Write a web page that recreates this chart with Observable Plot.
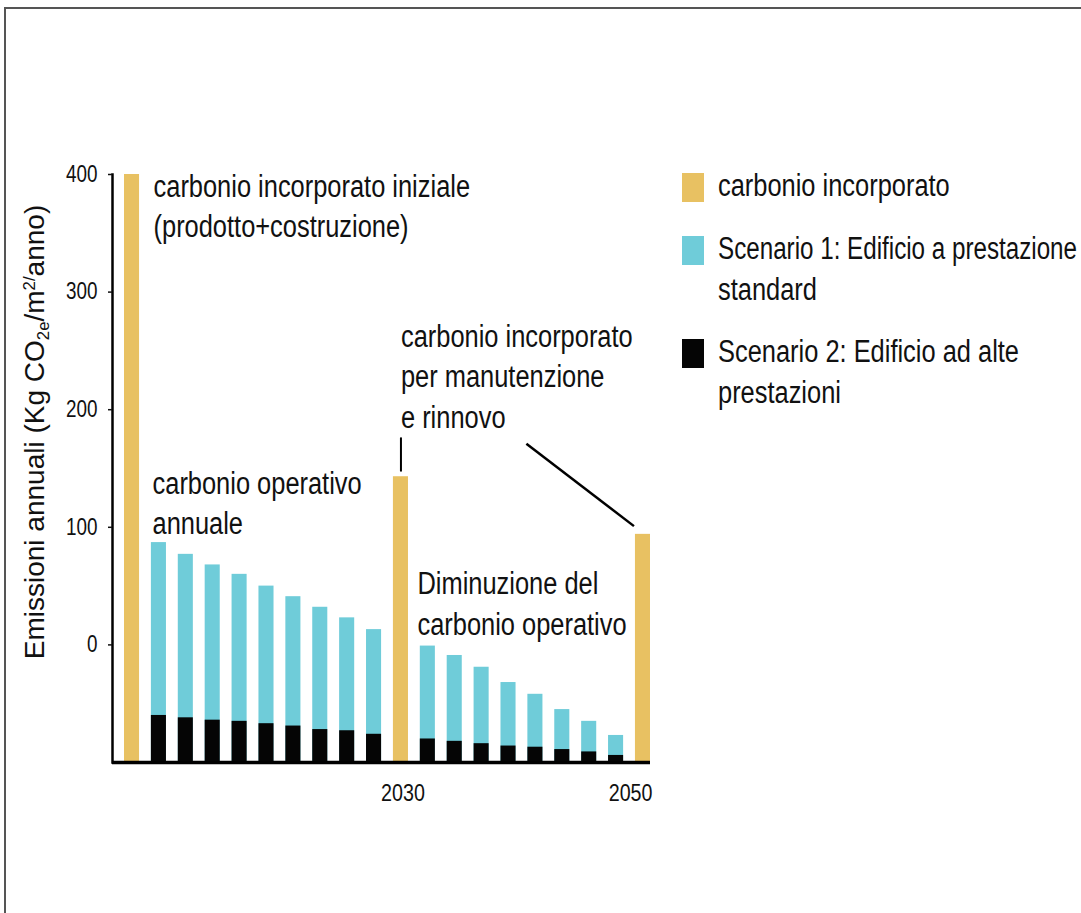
<!DOCTYPE html>
<html>
<head>
<meta charset="utf-8">
<script src="https://cdn.jsdelivr.net/npm/d3@7"></script>
<script src="https://cdn.jsdelivr.net/npm/@observablehq/plot@0.6"></script>
<style>
  html, body { margin: 0; padding: 0; background: #fff; overflow: hidden; }
  #page { position: relative; width: 1081px; height: 913px; overflow: hidden;
          font-family: 'Liberation Sans', Arial, sans-serif; color: #111; }
  #border { position: absolute; left: 4px; top: 7px; width: 1200px; height: 1000px;
            border-top: 2px solid #555; border-left: 2px solid #555; }
  #chart { position: absolute; left: 0; top: 0; }
  #ytitle { position: absolute; left: 35px; top: 432px; transform: translate(-50%, -50%) rotate(-90deg);
            white-space: nowrap; font-size: 28px; line-height: 1; color: #111; }
  #ytitle sub { font-size: 0.6em; vertical-align: -0.3em; line-height: 0; }
  #ytitle sup { font-size: 0.6em; vertical-align: 0.55em; line-height: 0; }
  #legend { position: absolute; left: 682px; top: 165px; display: flex; flex-direction: column; gap: 21.5px; }
  .item { display: flex; align-items: flex-start; font-size: 31px; line-height: 41px; color: #111; }
  .sw { width: 22px; height: 29px; margin-top: 8px; margin-right: 14px; flex: none; }
  .line { display: block; white-space: nowrap; }
  .line span { display: inline-block; transform-origin: 0 50%; }
</style>
</head>
<body>
<div id="page">
  <div id="border"></div>
  <div id="chart"></div>
  <div id="ytitle">Emissioni annuali (Kg CO<sub>2e</sub>/m<sup>2/</sup>anno)</div>
  <div id="legend"></div>
</div>
<script>
// ---- data ----
const embodiedSlots = [0, 10, 19];
const embodiedValues = [400, 143, 94];

const operationalSlots = [1, 2, 3, 4, 5, 6, 7, 8, 9, 11, 12, 13, 14, 15, 16, 17, 18];
const scenario1Values = [87, 77, 68, 60, 50, 41, 32, 23, 13, -1, -9, -19, -32, -42, -55, -65, -77];
const scenario2Values = [-60, -62, -64, -65, -67, -69, -72, -73, -76, -80, -82, -84, -86, -87, -89, -91, -94];

const baseValue = -100;
const yTicks = [0, 100, 200, 300, 400];
const yearLabels = ["2030", "2050"];
const yearSlots = [10, 19];

const annotationTexts = [
  "carbonio incorporato iniziale\n(prodotto+costruzione)",
  "carbonio operativo\nannuale",
  "carbonio incorporato\nper manutenzione\ne rinnovo",
  "Diminuzione del\ncarbonio operativo"
];
const annotationSlots = [0, 0, 10, 10];
const annotationValues = [405.6, 152.8, 277.5, 67.2];

const leaderSlots = [10];
const leaderFrom = [176];
const leaderTo = [147];
const diagonalSlots = [15, 19];
const diagonalValues = [171, 101];

const legendLabels = ["carbonio incorporato", "Scenario 1: Edificio a prestazione\nstandard", "Scenario 2: Edificio ad alte\nprestazioni"];

const GOLD = "#E8C162", CYAN = "#6FCCD9", BLACK = "#050505";
const legendColors = [GOLD, CYAN, BLACK];

// ---- tables ----
const allSlots = d3.range(20);
const embodied = embodiedSlots.map((s, i) => ({slot: s, value: embodiedValues[i]}));
const operational = operationalSlots.map((s, i) => ({slot: s, s1: scenario1Values[i], s2: scenario2Values[i]}));
const annotations = annotationTexts.map((t, i) => ({text: t, slot: annotationSlots[i], value: annotationValues[i]}));
const years = yearLabels.map((t, i) => ({text: t, slot: yearSlots[i]}));
const leaders = leaderSlots.map((s, i) => ({slot: s, from: leaderFrom[i], to: leaderTo[i]}));
const diagonal = [{x1: diagonalSlots[0], x2: diagonalSlots[1], y1: diagonalValues[0], y2: diagonalValues[1]}];

const W = 700, H = 913;
const SQUEEZE = 0.82;
const txt = {fontSize: 31, lineHeight: 1.3, textAnchor: "start", lineAnchor: "top", fill: "#111"};

const chart = Plot.plot({
  width: W, height: H,
  marginTop: 174, marginBottom: H - 762, marginLeft: 112, marginRight: W - 650,
  style: {fontFamily: "'Liberation Sans', Arial, sans-serif", fontSize: "23px", background: "transparent", color: "#111"},
  x: {type: "band", domain: allSlots, range: [124, 650], paddingInner: 0.44, paddingOuter: 0, round: false, axis: null},
  y: {domain: [baseValue, 400], axis: null},
  marks: [
    Plot.barY(operational, {x: "slot", y1: () => baseValue, y2: "s1", fill: CYAN}),
    Plot.barY(operational, {x: "slot", y1: () => baseValue, y2: "s2", fill: BLACK}),
    Plot.barY(embodied, {x: "slot", y1: () => baseValue, y2: "value", fill: GOLD}),
    Plot.ruleY([baseValue], {stroke: "#000", strokeWidth: 3.3}),
    Plot.frame({anchor: "left", stroke: "#000", strokeWidth: 2.5}),
    Plot.axisY(yTicks, {anchor: "left", tickSize: 4, tickPadding: 11, fontSize: 23, label: null, strokeWidth: 1.5}),
    Plot.text(years.slice(0, 1), {x: "slot", y: () => baseValue, text: "text", dy: 31, dx: 2, fontSize: 24, textAnchor: "middle", fill: "#111"}),
    Plot.text(years.slice(1), {x: "slot", y: () => baseValue, text: "text", dy: 31, dx: 9.5, fontSize: 24, textAnchor: "end", fill: "#111"}),
    Plot.text(annotations.slice(0, 1), {x: "slot", y: "value", text: "text", dx: 21.5, ...txt}),
    Plot.text(annotations.slice(1, 2), {x: "slot", y: "value", text: "text", dx: 20.5, ...txt}),
    Plot.text(annotations.slice(2, 3), {x: "slot", y: "value", text: "text", dx: 0, ...txt}),
    Plot.text(annotations.slice(3, 4), {x: "slot", y: "value", text: "text", dx: 16.5, ...txt}),
    Plot.ruleX(leaders, {x: "slot", y1: "from", y2: "to", stroke: "#000", strokeWidth: 2}),
    Plot.link(diagonal, {x1: "x1", x2: "x2", y1: "y1", y2: "y2", dx: -9, stroke: "#000", strokeWidth: 2.5})
  ]
});
document.getElementById("chart").appendChild(chart);

// condensed look: compress glyphs horizontally (text stays real text)
chart.querySelectorAll("text").forEach(t => {
  const spans = t.querySelectorAll("tspan");
  const targets = spans.length ? Array.from(spans) : [t];
  targets.forEach(el => {
    const len = el.getComputedTextLength();
    if (len > 0) {
      el.setAttribute("textLength", (len * SQUEEZE).toFixed(2));
      el.setAttribute("lengthAdjust", "spacingAndGlyphs");
    }
  });
});

// ---- legend ----
const legend = d3.select("#legend");
const maxLineWidth = 1081 - 718 - 4;
legendLabels.forEach((label, i) => {
  const item = legend.append("div").attr("class", "item");
  item.append("div").attr("class", "sw").style("background", legendColors[i]);
  const box = item.append("div");
  label.split("\n").forEach(line => {
    const span = box.append("div").attr("class", "line").append("span").text(line);
    const w = span.node().getBoundingClientRect().width;
    const s = Math.min(SQUEEZE, maxLineWidth / w);
    span.style("transform", `scaleX(${s})`);
  });
});
</script>
</body>
</html>
